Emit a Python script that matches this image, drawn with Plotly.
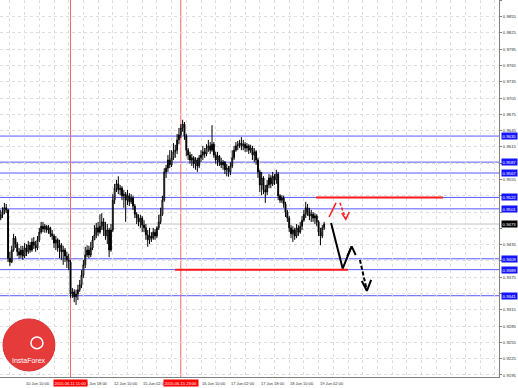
import plotly.graph_objects as go

# ---------------- data (H1 bars, x = bar index, 0 = 9 Jun 18:00) ----------------
first_bar = 3
first_open = 0.9484
closes = [0.9490, 0.9495, 0.9503, 0.9499, 0.9410, 0.9403, 0.9425, 0.9447, 0.9436, 0.9422,
          0.9416, 0.9425, 0.9414, 0.9429, 0.9422, 0.9434, 0.9425, 0.9440, 0.9434, 0.9429,
          0.9444, 0.9458, 0.9469, 0.9464, 0.9469, 0.9462, 0.9466, 0.9455, 0.9451, 0.9438,
          0.9444, 0.9429, 0.9434, 0.9422, 0.9425, 0.9414, 0.9407, 0.9403, 0.9344, 0.9348,
          0.9339, 0.9344, 0.9352, 0.9361, 0.9379, 0.9398, 0.9416, 0.9425, 0.9416, 0.9429,
          0.9444, 0.9453, 0.9466, 0.9458, 0.9469, 0.9477, 0.9462, 0.9451, 0.9462, 0.9425,
          0.9462, 0.9517, 0.9539, 0.9547, 0.9536, 0.9539, 0.9525, 0.9528, 0.9517, 0.9525,
          0.9514, 0.9521, 0.9506, 0.9491, 0.9484, 0.9477, 0.9484, 0.9471, 0.9466, 0.9453,
          0.9444, 0.9451, 0.9447, 0.9458, 0.9451, 0.9466, 0.9477, 0.9491, 0.9517, 0.9569,
          0.9576, 0.9591, 0.9582, 0.9595, 0.9606, 0.9609, 0.9628, 0.9637, 0.9650, 0.9657,
          0.9635, 0.9609, 0.9600, 0.9591, 0.9595, 0.9584, 0.9591, 0.9580, 0.9595, 0.9600,
          0.9606, 0.9602, 0.9613, 0.9617, 0.9609, 0.9620, 0.9600, 0.9591, 0.9598, 0.9587,
          0.9582, 0.9587, 0.9573, 0.9576, 0.9569, 0.9580, 0.9595, 0.9609, 0.9617, 0.9619,
          0.9622, 0.9617, 0.9620, 0.9613, 0.9617, 0.9609, 0.9613, 0.9600, 0.9606, 0.9591,
          0.9569, 0.9545, 0.9558, 0.9536, 0.9532, 0.9545, 0.9558, 0.9547, 0.9561, 0.9554,
          0.9565, 0.9525, 0.9517, 0.9521, 0.9510, 0.9495, 0.9484, 0.9466, 0.9455, 0.9462,
          0.9451, 0.9466, 0.9458, 0.9469, 0.9480, 0.9491, 0.9503, 0.9495, 0.9488, 0.9491,
          0.9484, 0.9488, 0.9477, 0.9458, 0.9451, 0.9466, 0.9473]
highs = [0.9499, 0.9504, 0.9512, 0.9510, 0.9501, 0.9422, 0.9433, 0.9455, 0.9451, 0.9440,
         0.9429, 0.9433, 0.9433, 0.9438, 0.9436, 0.9442, 0.9440, 0.9447, 0.9449, 0.9442,
         0.9451, 0.9466, 0.9477, 0.9477, 0.9473, 0.9471, 0.9471, 0.9468, 0.9462, 0.9455,
         0.9451, 0.9447, 0.9444, 0.9438, 0.9433, 0.9429, 0.9422, 0.9418, 0.9407, 0.9355,
         0.9353, 0.9352, 0.9361, 0.9370, 0.9388, 0.9407, 0.9431, 0.9434, 0.9433, 0.9440,
         0.9451, 0.9471, 0.9475, 0.9477, 0.9491, 0.9493, 0.9484, 0.9477, 0.9473, 0.9466,
         0.9473, 0.9528, 0.9547, 0.9554, 0.9561, 0.9545, 0.9543, 0.9536, 0.9532, 0.9536,
         0.9530, 0.9528, 0.9525, 0.9510, 0.9495, 0.9491, 0.9490, 0.9488, 0.9480, 0.9473,
         0.9462, 0.9466, 0.9458, 0.9466, 0.9464, 0.9469, 0.9490, 0.9503, 0.9525, 0.9576,
         0.9582, 0.9600, 0.9609, 0.9609, 0.9622, 0.9619, 0.9639, 0.9650, 0.9657, 0.9665,
         0.9661, 0.9639, 0.9613, 0.9606, 0.9602, 0.9598, 0.9596, 0.9595, 0.9600, 0.9609,
         0.9617, 0.9613, 0.9620, 0.9628, 0.9624, 0.9655, 0.9624, 0.9606, 0.9606, 0.9600,
         0.9595, 0.9591, 0.9589, 0.9584, 0.9580, 0.9587, 0.9609, 0.9617, 0.9624, 0.9626,
         0.9628, 0.9633, 0.9628, 0.9624, 0.9622, 0.9620, 0.9619, 0.9617, 0.9613, 0.9609,
         0.9595, 0.9573, 0.9569, 0.9561, 0.9545, 0.9554, 0.9565, 0.9563, 0.9569, 0.9565,
         0.9573, 0.9569, 0.9528, 0.9526, 0.9525, 0.9514, 0.9499, 0.9488, 0.9471, 0.9469,
         0.9466, 0.9473, 0.9471, 0.9477, 0.9488, 0.9499, 0.9514, 0.9510, 0.9503, 0.9499,
         0.9495, 0.9493, 0.9491, 0.9480, 0.9466, 0.9471, 0.9477]
lows = [0.9480, 0.9484, 0.9491, 0.9493, 0.9403, 0.9396, 0.9401, 0.9422, 0.9429, 0.9414,
        0.9409, 0.9410, 0.9407, 0.9410, 0.9414, 0.9418, 0.9420, 0.9422, 0.9427, 0.9422,
        0.9425, 0.9440, 0.9455, 0.9458, 0.9457, 0.9457, 0.9455, 0.9449, 0.9444, 0.9429,
        0.9425, 0.9422, 0.9410, 0.9407, 0.9398, 0.9403, 0.9392, 0.9388, 0.9337, 0.9337,
        0.9329, 0.9324, 0.9333, 0.9348, 0.9355, 0.9374, 0.9392, 0.9412, 0.9410, 0.9412,
        0.9425, 0.9444, 0.9447, 0.9451, 0.9455, 0.9462, 0.9451, 0.9444, 0.9436, 0.9412,
        0.9422, 0.9458, 0.9510, 0.9532, 0.9528, 0.9526, 0.9517, 0.9503, 0.9477, 0.9508,
        0.9506, 0.9510, 0.9499, 0.9484, 0.9473, 0.9469, 0.9466, 0.9458, 0.9458, 0.9444,
        0.9431, 0.9436, 0.9440, 0.9444, 0.9444, 0.9447, 0.9462, 0.9473, 0.9488, 0.9514,
        0.9558, 0.9569, 0.9576, 0.9578, 0.9591, 0.9595, 0.9602, 0.9620, 0.9631, 0.9643,
        0.9628, 0.9598, 0.9591, 0.9584, 0.9580, 0.9576, 0.9573, 0.9569, 0.9576, 0.9587,
        0.9591, 0.9595, 0.9598, 0.9606, 0.9602, 0.9606, 0.9595, 0.9584, 0.9580, 0.9580,
        0.9576, 0.9573, 0.9565, 0.9561, 0.9560, 0.9563, 0.9576, 0.9591, 0.9606, 0.9609,
        0.9613, 0.9609, 0.9609, 0.9606, 0.9606, 0.9602, 0.9604, 0.9591, 0.9587, 0.9582,
        0.9558, 0.9532, 0.9526, 0.9528, 0.9512, 0.9526, 0.9539, 0.9539, 0.9543, 0.9545,
        0.9547, 0.9517, 0.9512, 0.9512, 0.9503, 0.9486, 0.9477, 0.9458, 0.9447, 0.9440,
        0.9444, 0.9447, 0.9451, 0.9455, 0.9462, 0.9477, 0.9484, 0.9488, 0.9480, 0.9477,
        0.9477, 0.9473, 0.9469, 0.9451, 0.9434, 0.9447, 0.9462]

# horizontal levels (blue), current bid, red levels
level_prices = [0.9635, 0.9587, 0.9567, 0.9522, 0.9501, 0.9409, 0.9389, 0.9341]
level_labels = ["0.9635", "0.9587", "0.9567", "0.9522", "0.9501", "0.9409", "0.9389", "0.9341"]
current_price = 0.9473
current_label = "0.9473"
red_level_prices = [0.9522, 0.9389]
red_level_from_bar = [174.6, 97.9]
red_level_to_bar = [243.7, 192.0]

# vertical red time markers
vline_bars = [41, 101]
vline_labels = ["2015.06.11 11:00", "2015.06.15 23:00"]

# time axis labels (those hidden behind the red markers are left out)
time_tick_bars = [0, 16, 48, 64, 80, 112, 128, 144, 160, 176]
time_tick_labels = ["9 Jun 18:00", "10 Jun 10:00", "11 Jun 18:00",
                    "12 Jun 10:00", "15 Jun 02:00", "16 Jun 10:00",
                    "17 Jun 02:00", "17 Jun 18:00", "18 Jun 10:00", "19 Jun 02:00"]
grid_bars = list(range(0, 280, 8))

# price axis ticks (labels covered by level boxes are blank)
price_ticks = [0.9195, 0.9225, 0.9255, 0.9285, 0.9315, 0.9345, 0.9375, 0.9405, 0.9435,
               0.9465, 0.9495, 0.9525, 0.9555, 0.9585, 0.9615, 0.9645, 0.9675, 0.9705,
               0.9735, 0.9765, 0.9795, 0.9825, 0.9855, 0.9885]
price_tick_labels = ["0.9195", "0.9225", "0.9255", "0.9285", "0.9315", "", "0.9375", "",
                     "0.9435", "", "", "", "0.9555", "", "0.9615", "0.9645", "0.9675",
                     "0.9705", "0.9735", "0.9765", "0.9795", "0.9825", "0.9855", "0.9885"]

# forecast arrows (bar index, price)
red_up_x = [181.7, 185.5]
red_up_y = [0.9486, 0.9512]
red_down_x = [187.6, 190.8]
red_down_y = [0.9512, 0.9482]
red_head_x = [188.6, 190.8, 192.7]
red_head_y = [0.9493, 0.9482, 0.9495]
black_path_x = [182.8, 189.1, 194.0]
black_path_y = [0.9475, 0.9391, 0.9432]
black_head_x = [191.6, 194.0, 196.2]
black_head_y = [0.9414, 0.9432, 0.9416]
black_dash_x = [198.5, 202.3]
black_dash_y = [0.9407, 0.9350]
black_dhead_x = [199.5, 202.3, 204.6]
black_dhead_y = [0.9368, 0.9350, 0.9370]

# ---------------- figure ----------------
opens = [first_open] + closes[:-1]
xs = list(range(first_bar, first_bar + len(closes)))
hi = [max(h, o, c) for h, o, c in zip(highs, opens, closes)]
lo = [min(l, o, c) for l, o, c in zip(lows, opens, closes)]

FONT = "Liberation Sans"
fig = go.Figure()

shapes = []
for p in level_prices:
    shapes.append(dict(type="line", xref="paper", x0=0, x1=1, yref="y", y0=p, y1=p,
                       line=dict(color="#5a5aff", width=1), layer="below"))
shapes.append(dict(type="line", xref="paper", x0=0, x1=1, yref="y", y0=current_price,
                   y1=current_price, line=dict(color="#c4c4c4", width=1), layer="below"))
for b in vline_bars:
    shapes.append(dict(type="line", xref="x", x0=b, x1=b, yref="paper", y0=0, y1=1,
                       line=dict(color="#f06868", width=1), layer="below"))
for p, a, b in zip(red_level_prices, red_level_from_bar, red_level_to_bar):
    shapes.append(dict(type="line", xref="x", x0=a, x1=b, yref="y", y0=p, y1=p,
                       line=dict(color="#ff1a1a", width=2)))
# InstaForex badge
shapes.append(dict(type="circle", xref="paper", yref="paper", x0=0.006, x1=0.110,
                   y0=0.016, y1=0.154, fillcolor="#e63b3b", line=dict(color="#d83030", width=1)))
shapes.append(dict(type="circle", xref="paper", yref="paper", x0=0.062, x1=0.086,
                   y0=0.075, y1=0.106, fillcolor="rgba(0,0,0,0)", line=dict(color="white", width=1.5)))

fig.add_trace(go.Candlestick(
    x=xs, open=opens, high=hi, low=lo, close=closes,
    increasing=dict(line=dict(color="#000000", width=1), fillcolor="#ffffff"),
    decreasing=dict(line=dict(color="#000000", width=1), fillcolor="#000000"),
    whiskerwidth=0, showlegend=False, hoverinfo="skip"))

def seg(x, y, color, width, dash="solid"):
    fig.add_trace(go.Scatter(x=x, y=y, mode="lines", line=dict(color=color, width=width, dash=dash),
                             showlegend=False, hoverinfo="skip"))

seg(red_up_x, red_up_y, "#ff2020", 1.5)
seg(red_down_x, red_down_y, "#ff2020", 1.5, "3px,2px")
seg(red_head_x, red_head_y, "#ff2020", 1.5)
seg(black_path_x, black_path_y, "#000000", 2)
seg(black_head_x, black_head_y, "#000000", 2)
seg(black_dash_x, black_dash_y, "#000000", 2, "4px,2px")
seg(black_dhead_x, black_dhead_y, "#000000", 2)

annotations = []
for b, t in zip(time_tick_bars, time_tick_labels):
    annotations.append(dict(x=b, xref="x", y=0, yref="paper", yanchor="top", xanchor="left",
                            xshift=-1, yshift=-2, text=t, showarrow=False,
                            font=dict(family=FONT, size=4.0, color="#303030")))
for b, t in zip(vline_bars, vline_labels):
    annotations.append(dict(x=b, xref="x", y=0, yref="paper", yanchor="top", xanchor="center",
                            yshift=-2, text=t, showarrow=False, bgcolor="#ff0000", borderpad=0.5,
                            font=dict(family=FONT, size=4.1, color="white")))
for p, t in zip(level_prices, level_labels):
    annotations.append(dict(x=1, xref="paper", y=p, yref="y", xanchor="left", xshift=2,
                            text=t, showarrow=False, bgcolor="#1414ff", borderpad=0.6,
                            font=dict(family=FONT, size=4.3, color="white")))
annotations.append(dict(x=1, xref="paper", y=current_price, yref="y", xanchor="left", xshift=2,
                        text=current_label, showarrow=False, bgcolor="#000000", borderpad=0.6,
                        font=dict(family=FONT, size=4.3, color="white")))
annotations.append(dict(x=0.058, xref="paper", y=0.045, yref="paper", xanchor="center",
                        yanchor="middle", text="InstaForex", showarrow=False,
                        font=dict(family=FONT, size=7, color="white")))

fig.update_layout(
    width=518, height=388,
    margin=dict(l=0, r=19, t=0, b=11),
    paper_bgcolor="white", plot_bgcolor="white",
    shapes=shapes, annotations=annotations,
    showlegend=False,
    xaxis=dict(range=[2.61, 274.18], tickvals=grid_bars, showticklabels=False,
               showgrid=True, gridcolor="#dedede", griddash="dot", gridwidth=1,
               zeroline=False, showline=True, linecolor="#808080", linewidth=1,
               rangeslider=dict(visible=False), fixedrange=True),
    yaxis=dict(range=[0.91913, 0.98856], side="right", tickvals=price_ticks,
               ticktext=price_tick_labels, showgrid=True, gridcolor="#dedede", griddash="dot",
               zeroline=False, showline=True, linecolor="#808080", linewidth=1,
               ticks="outside", ticklen=2, tickcolor="#808080",
               tickfont=dict(family=FONT, size=4.3, color="#303030"), fixedrange=True),
)

fig.write_html("out.html")
